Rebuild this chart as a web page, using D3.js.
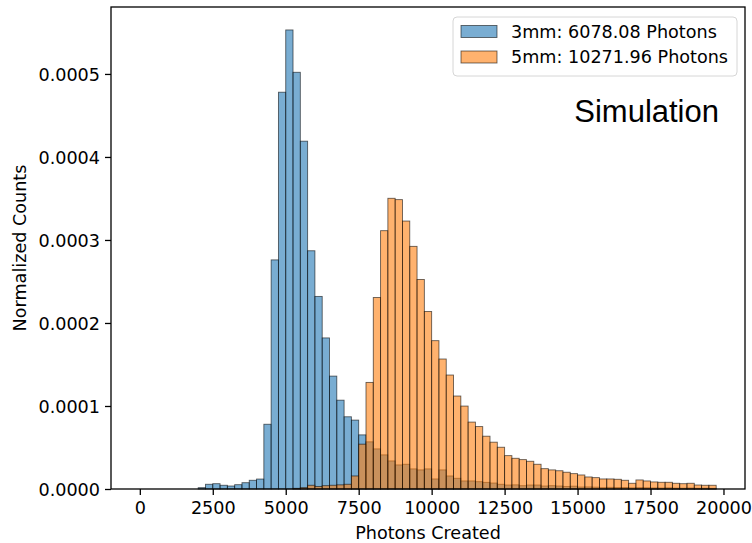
<!DOCTYPE html>
<html>
<head>
<meta charset="utf-8">
<script src="https://cdn.jsdelivr.net/npm/d3@7"></script>
<style>
  html, body { margin: 0; padding: 0; background: #fff; }
  svg { display: block; }
  text { font-family: "DejaVu Sans", sans-serif; fill: #000; }
</style>
</head>
<body>
<svg id="chart" width="752" height="543"></svg>
<script>
// Histogram bins: 250-photon wide, left edges from 0 to 19500
const binWidth = 250;
const binCount = 79;
const binStarts = d3.range(binCount).map(i => i * binWidth);

// Normalized counts per bin, 3 mm crystal
const counts3mm = [
  0, 0, 0, 0, 0, 0, 0, 0,
  0.0000016, 0.0000057, 0.0000064, 0.0000045, 0.0000036, 0.0000052, 0.0000076, 0.0000105,
  0.0000120, 0.0000780, 0.0002760, 0.0004780, 0.0005530, 0.0005020, 0.0004190, 0.0002870,
  0.0002320, 0.0001820, 0.0001360, 0.0001070, 0.0000870, 0.0000830, 0.0000652, 0.0000568,
  0.0000483, 0.0000411, 0.0000338, 0.0000290, 0.0000298, 0.0000242, 0.0000230, 0.0000242,
  0.0000121, 0.0000230, 0.0000157, 0.0000129, 0.0000097, 0.0000097, 0.0000088, 0.0000080,
  0.0000072, 0.0000057, 0.0000048, 0.0000050, 0.0000040, 0.0000048, 0.0000048, 0.0000036,
  0.0000040, 0.0000036, 0.0000030, 0.0000034, 0.0000024, 0.0000025, 0.0000022, 0.0000016,
  0.0000020, 0.0000017, 0.0000018, 0.0000014, 0.0000016, 0.0000015, 0.0000013, 0.0000012,
  0.0000014, 0.0000011, 0.0000010, 0.0000012, 0.0000009, 0.0000010, 0.0000008
];

// Normalized counts per bin, 5 mm crystal
const counts5mm = [
  0, 0, 0, 0, 0, 0, 0, 0,
  0, 0, 0, 0, 0, 0, 0, 0,
  0, 0, 0, 0, 0, 0.0000008, 0.0000016, 0.0000045,
  0.0000030, 0.0000040, 0.0000045, 0.0000050, 0.0000057, 0.0000157, 0.0000540, 0.0001284,
  0.0002307, 0.0003112, 0.0003502, 0.0003486, 0.0003228, 0.0002923, 0.0002524, 0.0002138,
  0.0001787, 0.0001566, 0.0001373, 0.0001120, 0.0000999, 0.0000806, 0.0000752, 0.0000636,
  0.0000564, 0.0000503, 0.0000402, 0.0000370, 0.0000354, 0.0000334, 0.0000298, 0.0000245,
  0.0000230, 0.0000220, 0.0000202, 0.0000185, 0.0000169, 0.0000145, 0.0000137, 0.0000121,
  0.0000121, 0.0000117, 0.0000105, 0.0000069, 0.0000109, 0.0000097, 0.0000085, 0.0000081,
  0.0000081, 0.0000069, 0.0000064, 0.0000069, 0.0000048, 0.0000045, 0.0000045
];

const seriesNames = ["3mm: 6078.08 Photons", "5mm: 10271.96 Photons"];
const seriesColors = ["#1f77b4", "#ff7f0e"];
const xTicks = [0, 2500, 5000, 7500, 10000, 12500, 15000, 17500, 20000];
const yTicks = [0, 0.0001, 0.0002, 0.0003, 0.0004, 0.0005];

const fontSize = "17.6px";
const svg = d3.select("#chart");
const plot = { left: 111, right: 745, top: 7, bottom: 489 };

// x limits: bin range padded by 5% on each side
const lo = binStarts[0], hi = binStarts[binCount - 1] + binWidth;
const pad = (hi - lo) * 0.05;
const x = d3.scaleLinear().domain([lo - pad, hi + pad]).range([plot.left, plot.right]);
const yMax = d3.max(counts3mm.concat(counts5mm)) * 1.05;
const y = d3.scaleLinear().domain([0, yMax]).range([plot.bottom, plot.top]);

// Bars, 3 mm drawn first, 5 mm over it
[counts3mm, counts5mm].forEach((vals, s) => {
  svg.append("g")
    .selectAll("rect")
    .data(vals.map((v, i) => ({ x0: binStarts[i], v })).filter(d => d.v > 0))
    .join("rect")
    .attr("x", d => x(d.x0))
    .attr("width", d => x(d.x0 + binWidth) - x(d.x0))
    .attr("y", d => y(d.v))
    .attr("height", d => y(0) - y(d.v))
    .attr("fill", seriesColors[s])
    .attr("fill-opacity", 0.6)
    .attr("stroke", "#000")
    .attr("stroke-opacity", 0.6)
    .attr("stroke-width", 0.9);
});

// Axes
const xAxis = d3.axisBottom(x).tickValues(xTicks).tickFormat(d3.format("d"))
  .tickSize(6).tickPadding(5);
const yAxis = d3.axisLeft(y).tickValues(yTicks).tickFormat(d3.format(".4f"))
  .tickSize(6).tickPadding(5);

const gx = svg.append("g").attr("transform", `translate(0,${plot.bottom})`).call(xAxis);
const gy = svg.append("g").attr("transform", `translate(${plot.left},0)`).call(yAxis);
[gx, gy].forEach(g => {
  g.select(".domain").remove();
  g.selectAll(".tick line").attr("stroke", "#000").attr("stroke-width", 1.3);
  g.selectAll(".tick text").style("font-size", fontSize).attr("fill", "#000");
});
gy.selectAll(".tick text").attr("dy", "0.35em");
gx.selectAll(".tick text").attr("dy", "0.8em");

// Frame
svg.append("rect")
  .attr("x", plot.left).attr("y", plot.top)
  .attr("width", plot.right - plot.left).attr("height", plot.bottom - plot.top)
  .attr("fill", "none").attr("stroke", "#000").attr("stroke-width", 1.3);

// Axis labels
svg.append("text")
  .attr("x", (plot.left + plot.right) / 2).attr("y", 539)
  .attr("text-anchor", "middle").style("font-size", fontSize)
  .text("Photons Created");
svg.append("text")
  .attr("transform", `translate(26,${(plot.top + plot.bottom) / 2}) rotate(-90)`)
  .attr("text-anchor", "middle").style("font-size", fontSize)
  .text("Normalized Counts");

// Legend
const legend = svg.append("g");
legend.append("rect")
  .attr("x", 453).attr("y", 17).attr("width", 284).attr("height", 59)
  .attr("rx", 4).attr("fill", "#fff").attr("fill-opacity", 0.8)
  .attr("stroke", "#d6d6d6").attr("stroke-width", 1);
seriesNames.forEach((name, i) => {
  const cy = 31.5 + i * 25.5;
  legend.append("rect")
    .attr("x", 461).attr("y", cy - 6).attr("width", 36).attr("height", 12)
    .attr("fill", seriesColors[i]).attr("fill-opacity", 0.6)
    .attr("stroke", "#000").attr("stroke-opacity", 0.6).attr("stroke-width", 0.9);
  legend.append("text")
    .attr("x", 511).attr("y", cy).attr("dy", "0.36em")
    .style("font-size", fontSize)
    .text(name);
});

// Annotation
svg.append("text")
  .attr("x", 719).attr("y", 122)
  .attr("text-anchor", "end")
  .style("font-family", "'Liberation Sans', Arial, sans-serif")
  .style("font-size", "31px")
  .text("Simulation");
</script>
</body>
</html>
